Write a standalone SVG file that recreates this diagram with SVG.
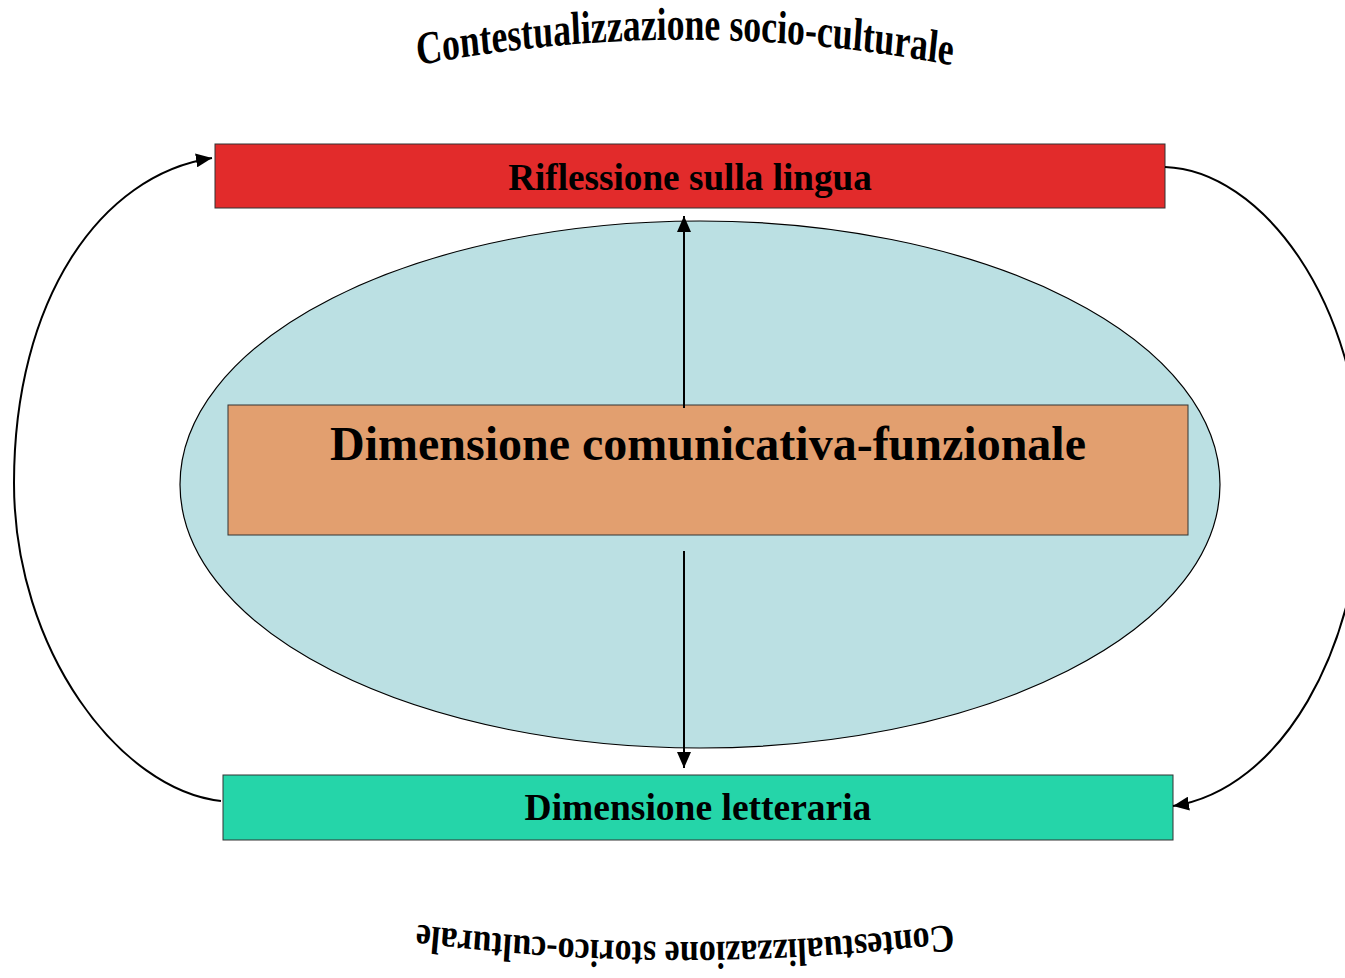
<svg xmlns="http://www.w3.org/2000/svg" width="1345" height="978" viewBox="0 0 1345 978">
<style>
.t{font-family:"Liberation Serif","Times New Roman",serif;font-weight:bold;fill:#000}
.box{stroke:#333;stroke-width:1}
.con{fill:none;stroke:#000;stroke-width:2}
</style>
<defs>
<marker id="ah" markerWidth="16" markerHeight="14" refX="16" refY="7" orient="auto" markerUnits="userSpaceOnUse">
<path d="M0,0 L16,7 L0,14 Z" fill="#000"/>
</marker>
<path id="arcTop" d="M385,64.7 A1822,1822 0 0,1 985,64.7"/>
<path id="arcBot" d="M985,923 A2372,2372 0 0,1 385,923"/>
</defs>
<rect width="1345" height="978" fill="#fff"/>
<g id="label-top" transform="matrix(1,0,0,1.3,0,-12)">
<text class="t" font-size="35.7"><textPath href="#arcTop" startOffset="50%" text-anchor="middle">Contestualizzazione socio-culturale</textPath></text>
</g>
<g id="label-bottom" transform="matrix(1,0,0,1.15,0,-141.3)">
<text class="t" font-size="34"><textPath href="#arcBot" startOffset="50%" text-anchor="middle">Contestualizzazione storico-culturale</textPath></text>
</g>
<g id="ellipse">
<ellipse cx="700" cy="484.5" rx="520" ry="263.5" fill="#BBE0E3" stroke="#000" stroke-width="1.2"/>
</g>
<g id="riflessione">
<rect class="box" x="215" y="144" width="950" height="64" fill="#E22B2B"/>
<text class="t" x="690" y="190" font-size="37.2" text-anchor="middle">Riflessione sulla lingua</text>
</g>
<g id="comunicativa">
<rect class="box" x="228" y="405" width="960" height="130" fill="#E29F6F"/>
<text class="t" x="708" y="460" font-size="48" text-anchor="middle">Dimensione comunicativa-funzionale</text>
</g>
<g id="letteraria">
<rect class="box" x="223" y="775" width="950" height="65" fill="#25D5A9"/>
<text class="t" x="698" y="820" font-size="37.5" text-anchor="middle">Dimensione letteraria</text>
</g>
<g id="connectors">
<path class="con" d="M684,408 L684,216" marker-end="url(#ah)"/>
<path class="con" d="M684,551 L684,768" marker-end="url(#ah)"/>
<path class="con" d="M221,801 C120,790 14,650 14,483 C14,300 100,175 212,158" marker-end="url(#ah)"/>
<path class="con" d="M1165,167 C1260,170 1362,300 1362,483 C1362,650 1280,790 1173,806" marker-end="url(#ah)"/>
</g>
</svg>
